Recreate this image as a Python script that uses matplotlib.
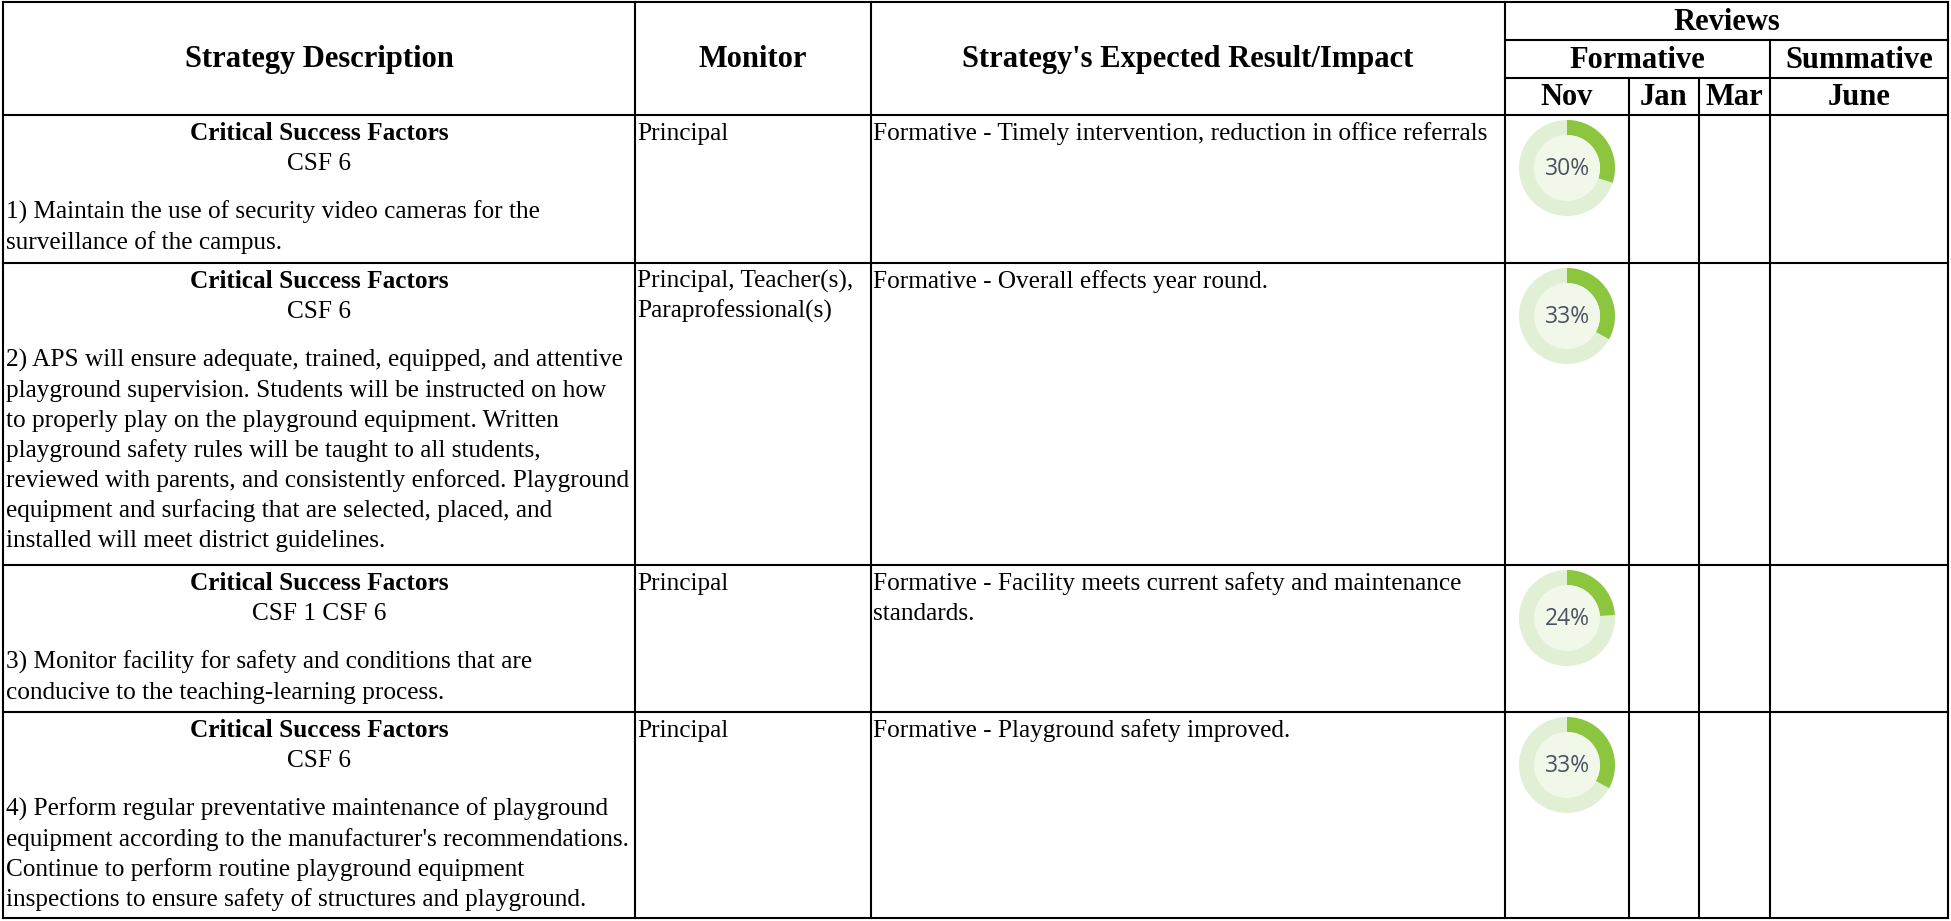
import matplotlib
matplotlib.use("Agg")
import matplotlib.pyplot as plt
from matplotlib.patches import Wedge, Circle

# ---------------- data ----------------
header_cols = ["Strategy Description", "Monitor", "Strategy's Expected Result/Impact"]
reviews_label = "Reviews"
formative_label = "Formative"
summative_label = "Summative"
month_labels = ["Nov", "Jan", "Mar", "June"]

csf_title = "Critical Success Factors"
csf_codes = ["CSF 6", "CSF 6", "CSF 1 CSF 6", "CSF 6"]
descriptions = [
    ["1) Maintain the use of security video cameras for the",
     "surveillance of the campus."],
    ["2) APS will ensure adequate, trained, equipped, and attentive",
     "playground supervision. Students will be instructed on how",
     "to properly play on the playground equipment. Written",
     "playground safety rules will be taught to all students,",
     "reviewed with parents, and consistently enforced. Playground",
     "equipment and surfacing that are selected, placed, and",
     "installed will meet district guidelines."],
    ["3) Monitor facility for safety and conditions that are",
     "conducive to the teaching-learning process."],
    ["4) Perform regular preventative maintenance of playground",
     "equipment according to the manufacturer's recommendations.",
     "Continue to perform routine playground equipment",
     "inspections to ensure safety of structures and playground."],
]
monitors = [
    ["Principal"],
    ["Principal, Teacher(s),", "Paraprofessional(s)"],
    ["Principal"],
    ["Principal"],
]
results = [
    ["Formative - Timely intervention, reduction in office referrals"],
    ["Formative - Overall effects year round."],
    ["Formative - Facility meets current safety and maintenance", "standards."],
    ["Formative - Playground safety improved."],
]
nov_percent = [30, 33, 24, 33]

# ---------------- layout (pixels) ----------------
W, H = 1951, 921
col_x = [3, 635, 871, 1505, 1629, 1699, 1770, 1948]
head_y = [2, 40, 78, 115]
row_y = [115, 263, 565, 712, 918]

LINE = 30          # line spacing
FIRST = 25         # first baseline offset from row top
PARA = 104         # paragraph first baseline offset

serif = "Liberation Serif"
head_fs = 22
body_fs = 18.2
lw = 1.5

green = "#8cc63f"
ring = "#e1efd4"
inner = "#f1f8ea"
pct_color = "#4a5263"

fig = plt.figure(figsize=(W / 100, H / 100), dpi=100)
ax = fig.add_axes([0, 0, 1, 1])
ax.set_xlim(0, W)
ax.set_ylim(H, 0)
ax.axis("off")

def hline(y, x0, x1):
    ax.plot([x0, x1], [y, y], color="black", lw=lw, solid_capstyle="projecting")

def vline(x, y0, y1):
    ax.plot([x, x], [y0, y1], color="black", lw=lw, solid_capstyle="projecting")

# outer border
hline(col_x and head_y[0], col_x[0], col_x[-1])
hline(row_y[-1], col_x[0], col_x[-1])
vline(col_x[0], head_y[0], row_y[-1])
vline(col_x[-1], head_y[0], row_y[-1])
# header internal
hline(head_y[1], col_x[3], col_x[-1])
hline(head_y[2], col_x[3], col_x[-1])
for x in col_x[1:4]:
    vline(x, head_y[0], row_y[-1])
vline(col_x[6], head_y[1], row_y[-1])
vline(col_x[4], head_y[2], row_y[-1])
vline(col_x[5], head_y[2], row_y[-1])
for y in row_y[:-1]:
    hline(y, col_x[0], col_x[-1])

# header texts
hkw = dict(fontfamily=serif, fontweight="bold", fontsize=head_fs, ha="center", va="center")
for i, lab in enumerate(header_cols):
    ax.text((col_x[i] + col_x[i + 1]) / 2, (head_y[0] + head_y[3]) / 2 + 1, lab, **hkw)
ax.text((col_x[3] + col_x[-1]) / 2, (head_y[0] + head_y[1]) / 2 + 1, reviews_label, **hkw)
ax.text((col_x[3] + col_x[6]) / 2, (head_y[1] + head_y[2]) / 2 + 1, formative_label, **hkw)
ax.text((col_x[6] + col_x[7]) / 2, (head_y[1] + head_y[2]) / 2 + 1, summative_label, **hkw)
month_cells = [(col_x[3], col_x[4]), (col_x[4], col_x[5]), (col_x[5], col_x[6]), (col_x[6], col_x[7])]
for lab, (a, b) in zip(month_labels, month_cells):
    ax.text((a + b) / 2, (head_y[2] + head_y[3]) / 2 + 1, lab, **hkw)

# body rows
bkw = dict(fontfamily=serif, fontsize=body_fs, va="baseline")
desc_cx = (col_x[0] + col_x[1]) / 2
for r in range(len(csf_codes)):
    top = row_y[r]
    ax.text(desc_cx, top + FIRST, csf_title, ha="center", fontweight="bold", **bkw)
    ax.text(desc_cx, top + FIRST + LINE, csf_codes[r], ha="center", **bkw)
    for k, line in enumerate(descriptions[r]):
        ax.text(col_x[0] + 3, top + PARA + k * LINE, line, ha="left", **bkw)
    for k, line in enumerate(monitors[r]):
        ax.text(col_x[1] + 2, top + FIRST + k * LINE, line, ha="left", **bkw)
    for k, line in enumerate(results[r]):
        ax.text(col_x[2] + 2, top + FIRST + k * LINE, line, ha="left", **bkw)

    # donut for Nov
    cx = (col_x[3] + col_x[4]) / 2
    cy = top + 53
    R, Wd = 48, 15
    ax.add_patch(Circle((cx, cy), R, facecolor=ring, edgecolor="none"))
    ax.add_patch(Wedge((cx, cy), R, -90, -90 + 3.6 * nov_percent[r], width=Wd,
                       facecolor=green, edgecolor="none"))
    ax.add_patch(Circle((cx, cy), R - Wd, facecolor=inner, edgecolor="none"))
    ax.text(cx, cy + 1, f"{nov_percent[r]}%", ha="center", va="center",
            fontfamily="Open Sans", fontsize=16.5, color=pct_color)

fig.savefig("out.png", dpi=100, facecolor="white")
